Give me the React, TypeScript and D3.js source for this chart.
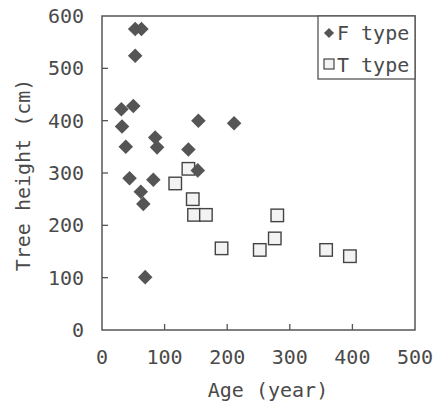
import React from 'react';
import * as d3 from 'd3';

// F type (diamonds)
const fAge = [53, 63, 53, 31, 50, 32, 38, 44, 62, 66, 69, 85, 88, 82, 138, 154, 153, 211];
const fHeight = [575, 575, 524, 422, 428, 389, 350, 290, 264, 241, 101, 368, 349, 287, 345, 400, 305, 395];

// T type (squares)
const tAge = [138, 117, 145, 147, 166, 191, 252, 276, 280, 358, 396];
const tHeight = [308, 280, 250, 220, 220, 156, 153, 175, 219, 153, 141];

const xTicks = [0, 100, 200, 300, 400, 500];
const yTicks = [0, 100, 200, 300, 400, 500, 600];

const W = 447;
const H = 405;
const margin = { left: 102, right: 32, top: 16, bottom: 75 };

const font = '"DejaVu Sans Mono", "Noto Sans CJK JP", monospace';
const ink = '#4a4a4a';

const App: React.FC = () => {
  const x = d3.scaleLinear().domain([0, 500]).range([margin.left, W - margin.right]);
  const y = d3.scaleLinear().domain([0, 600]).range([H - margin.bottom, margin.top]);

  const [x0, x1] = x.range();
  const [y0, y1] = y.range();

  const diamond = d3.symbol().type(d3.symbolDiamond2).size(135)();
  const smallDiamond = d3.symbol().type(d3.symbolDiamond2).size(65)();
  const sq = 12.5;

  return (
    <svg
      width={W}
      height={H}
      style={{ position: 'absolute', left: 0, top: 0, background: '#fff' }}
      fontFamily={font}
    >
      {/* frame */}
      <rect x={x0} y={y1} width={x1 - x0} height={y0 - y1} fill="none" stroke="#555" strokeWidth={1.5} />

      {/* x ticks, pointing inward */}
      {xTicks.map(t => (
        <g key={'x' + t}>
          {t > 0 && t < 500 && <line x1={x(t)} x2={x(t)} y1={y0} y2={y0 - 6} stroke="#555" strokeWidth={1.3} />}
          <text x={x(t)} y={y0 + 34} textAnchor="middle" fontSize={20} fill={ink}>{t}</text>
        </g>
      ))}

      {/* y ticks */}
      {yTicks.map(t => (
        <g key={'y' + t}>
          {t > 0 && t < 600 && <line x1={x0} x2={x0 + 6} y1={y(t)} y2={y(t)} stroke="#555" strokeWidth={1.3} />}
          <text x={84} y={y(t) + 7} textAnchor="end" fontSize={20} fill={ink}>{t}</text>
        </g>
      ))}

      {/* axis titles */}
      <text x={268} y={397} textAnchor="middle" fontSize={20} fill={ink} xmlSpace="preserve">
        Age (year)
      </text>
      <text
        transform="translate(30,175) rotate(-90)"
        textAnchor="middle"
        fontSize={20}
        fill={ink}
      >
        Tree height (cm)
      </text>

      {/* T type squares */}
      {tAge.map((a, i) => (
        <rect
          key={'t' + i}
          x={x(a) - sq / 2}
          y={y(tHeight[i]) - sq / 2}
          width={sq}
          height={sq}
          fill="#f3f3f3"
          stroke="#444"
          strokeWidth={1.4}
        />
      ))}

      {/* F type diamonds */}
      {fAge.map((a, i) => (
        <path
          key={'f' + i}
          d={diamond!}
          transform={`translate(${x(a)},${y(fHeight[i])})`}
          fill="#555"
        />
      ))}

      {/* legend */}
      <rect x={318} y={y1} width={x1 - 318} height={63} fill="#fff" stroke="#555" strokeWidth={1.3} />
      <path d={smallDiamond!} transform="translate(329,33)" fill="#555" />
      <text x={337} y={40} fontSize={20} fill={ink}>F type</text>
      <rect x={324} y={59} width={10} height={10} fill="#f3f3f3" stroke="#444" strokeWidth={1.2} />
      <text x={337} y={72} fontSize={20} fill={ink}>T type</text>
    </svg>
  );
};

export default App;
